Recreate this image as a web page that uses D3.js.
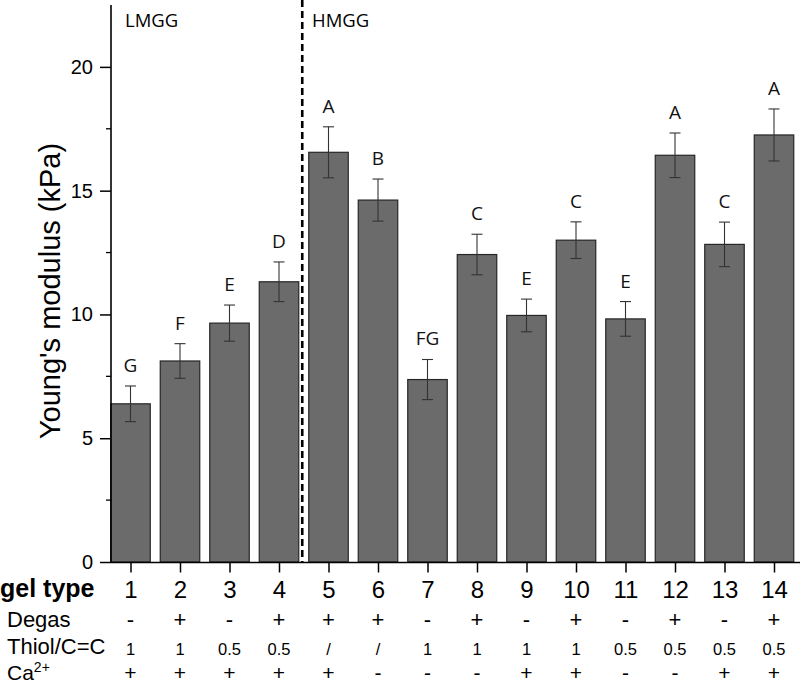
<!DOCTYPE html>
<html><head><meta charset="utf-8">
<script src="https://cdn.jsdelivr.net/npm/d3@7"></script>
<style>body{margin:0;background:#fff}svg{display:block}</style>
</head><body><svg id="c" width="800" height="684"></svg>
<script>
const gelTypes = [1,2,3,4,5,6,7,8,9,10,11,12,13,14];
const modulus = [6.39,8.12,9.65,11.32,16.55,14.62,7.37,12.42,9.96,13.00,9.82,16.43,12.83,17.25];
const errors  = [0.72,0.70,0.73,0.80,1.03,0.85,0.81,0.82,0.66,0.74,0.70,0.90,0.90,1.05];
const letters = ["G","F","E","D","A","B","FG","C","E","C","E","A","C","A"];
const degas   = ["-","+","-","+","+","+","-","+","-","+","-","+","-","+"];
const thiol   = ["1","1","0.5","0.5","/","/","1","1","1","1","0.5","0.5","0.5","0.5"];
const calcium = ["+","+","+","+","+","-","-","-","+","+","-","-","+","+"];
const yTicks  = [0,5,10,15,20];

const svg = d3.select("#c");
const x = d3.scaleLinear().domain([1,14]).range([130.5,774]);
const y = d3.scaleLinear().domain([0,22.5]).range([562,5]);
const bw = 39.5;
const axisX = 111;
const lf = "Liberation Sans, Arial";

// bars
svg.append("g").selectAll("rect").data(gelTypes).join("rect")
  .attr("x", (d,i)=>x(d)-bw/2).attr("y", (d,i)=>y(modulus[i]))
  .attr("width", bw).attr("height", (d,i)=>y(0)-y(modulus[i]))
  .attr("fill","#6b6b6b").attr("stroke","#262626").attr("stroke-width",1.2);

// error bars
const eb = svg.append("g").attr("stroke","#333").attr("stroke-width",1.1);
gelTypes.forEach((d,i)=>{
  const cx = x(d), t = y(modulus[i]+errors[i]), b = y(modulus[i]-errors[i]);
  eb.append("line").attr("x1",cx).attr("x2",cx).attr("y1",t).attr("y2",b);
  eb.append("line").attr("x1",cx-5.5).attr("x2",cx+5.5).attr("y1",t).attr("y2",t);
  eb.append("line").attr("x1",cx-5.5).attr("x2",cx+5.5).attr("y1",b).attr("y2",b);
});

// significance letters
svg.append("g").selectAll("text").data(gelTypes).join("text")
  .attr("x", d=>x(d)).attr("y", (d,i)=>y(modulus[i]+errors[i])-14)
  .attr("text-anchor","middle").attr("font-family","Open Sans").attr("font-size",19)
  .attr("fill","#111").text((d,i)=>letters[i]);

// dashed separator
svg.append("line").attr("x1",x(4.5)-1.5).attr("x2",x(4.5)-1.5).attr("y1",0).attr("y2",562)
  .attr("stroke","#000").attr("stroke-width",2.6).attr("stroke-dasharray","7,4");

// group labels
svg.append("text").attr("x",125).attr("y",27).attr("font-family","Open Sans").attr("font-size",18.5).text("LMGG");
svg.append("text").attr("x",312).attr("y",27).attr("font-family","Open Sans").attr("font-size",18.5).text("HMGG");

// y axis
const yAxis = svg.append("g").attr("transform",`translate(${axisX},0)`)
  .call(d3.axisLeft(y).tickValues(yTicks).tickSize(11).tickPadding(7));
yAxis.select(".domain").attr("d",`M0,${y(22.5)}V${y(0)}`).attr("stroke","#000").attr("stroke-width",1.6);
yAxis.selectAll(".tick line").attr("stroke","#000").attr("stroke-width",1.5);
yAxis.selectAll(".tick text").attr("font-family",lf).attr("font-size",20).attr("fill","#000");
// minor ticks
svg.append("g").selectAll("line").data([2.5,7.5,12.5,17.5]).join("line")
  .attr("x1",axisX-5).attr("x2",axisX).attr("y1",d=>y(d)).attr("y2",d=>y(d))
  .attr("stroke","#000").attr("stroke-width",1.3);

// x axis
svg.append("line").attr("x1",axisX).attr("x2",800).attr("y1",562.5).attr("y2",562.5)
  .attr("stroke","#000").attr("stroke-width",1.6);
const xAxis = svg.append("g").attr("transform","translate(0,562.5)")
  .call(d3.axisBottom(x).tickValues(gelTypes).tickSize(10).tickPadding(8).tickFormat(d3.format("d")));
xAxis.select(".domain").remove();
xAxis.selectAll(".tick line").attr("stroke","#000").attr("stroke-width",1.5);
xAxis.selectAll(".tick text").attr("font-family",lf).attr("font-size",24).attr("fill","#000");

// y label
svg.append("text").attr("transform","translate(60,291) rotate(-90)").attr("text-anchor","middle")
  .attr("font-family",lf).attr("font-size",29).text("Young's modulus (kPa)");

// table rows
svg.append("text").attr("x",0).attr("y",597).attr("font-family",lf).attr("font-weight","bold").attr("font-size",25).text("gel type");
svg.append("text").attr("x",7).attr("y",627).attr("font-family",lf).attr("font-size",22).text("Degas");
svg.append("text").attr("x",7).attr("y",654).attr("font-family",lf).attr("font-size",22).text("Thiol/C=C");
const ca = svg.append("text").attr("x",7).attr("y",680).attr("font-family",lf).attr("font-size",21);
ca.append("tspan").text("Ca");
ca.append("tspan").attr("dy",-8).attr("font-size",14).text("2+");

svg.append("g").selectAll("text").data(gelTypes).join("text")
  .attr("x",d=>x(d)).attr("y",627).attr("text-anchor","middle").attr("font-family",lf).attr("font-size",22)
  .text((d,i)=>degas[i]);
svg.append("g").selectAll("text").data(gelTypes).join("text")
  .attr("x",d=>x(d)).attr("y",655).attr("text-anchor","middle").attr("font-family",lf).attr("font-size",16.5)
  .text((d,i)=>thiol[i]);
svg.append("g").selectAll("text").data(gelTypes).join("text")
  .attr("x",d=>x(d)).attr("y",680).attr("text-anchor","middle").attr("font-family",lf).attr("font-size",21)
  .text((d,i)=>calcium[i]);
</script></body></html>
